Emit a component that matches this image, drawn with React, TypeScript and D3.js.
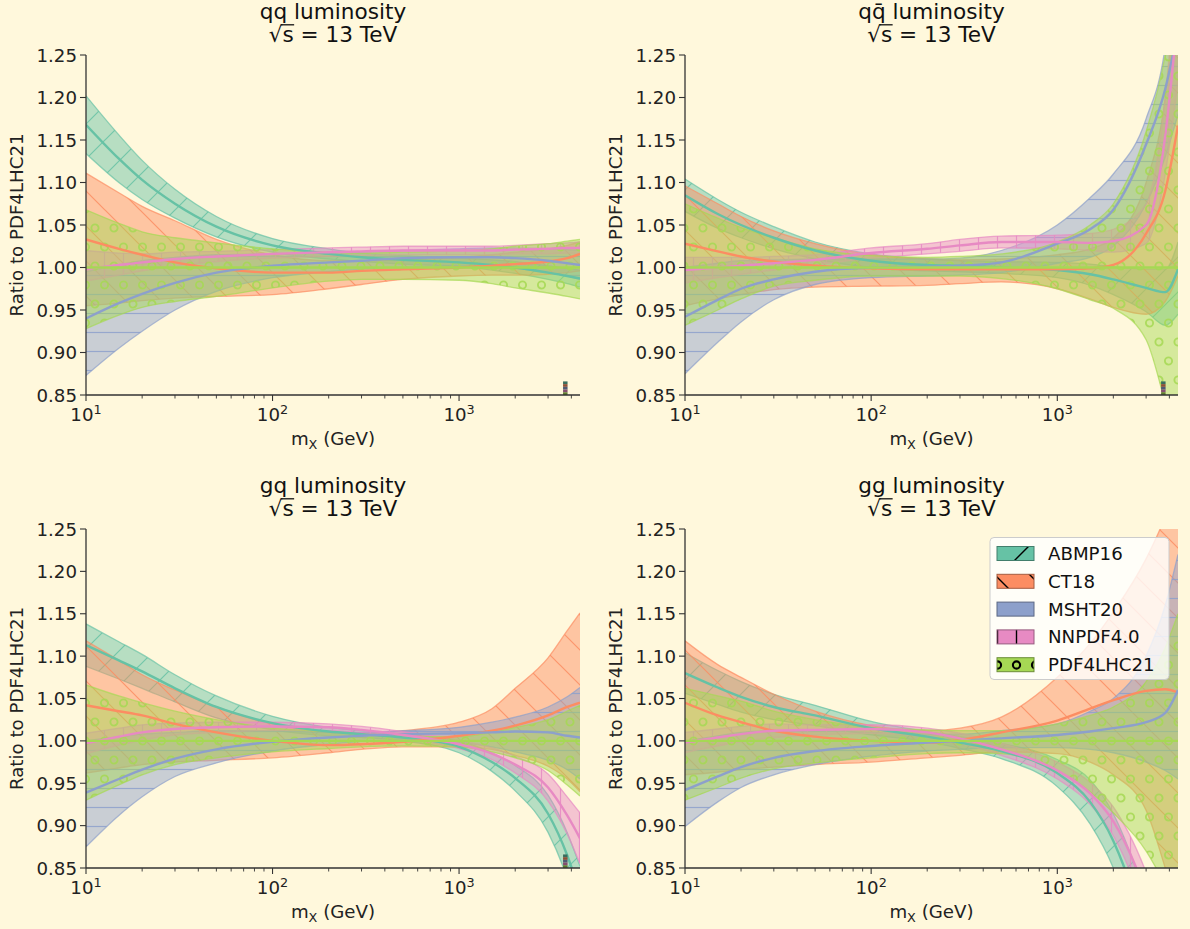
import React, { useLayoutEffect, useRef, useState } from "react";
import * as d3 from "d3";

// Invariant-mass grid (GeV) on which all luminosity ratios are tabulated
const massGrid = [10, 15, 20, 30, 50, 100, 200, 300, 500, 1000, 1500, 2000, 3000, 3800, 4450];
const pdfSets = ["ABMP16", "CT18", "MSHT20", "NNPDF4.0", "PDF4LHC21"];
const setColors = ["#66c2a5", "#fc8d62", "#8da0cb", "#e78ac3", "#a6d854"];
const hatchKinds = ["slash", "backslash", "horizontal", "vertical", "circles"];
const yTicks = [0.85, 0.9, 0.95, 1.0, 1.05, 1.1, 1.15, 1.2, 1.25];
const xMajorTicks = [10, 100, 1000];
const xMinorTicks = [20, 30, 40, 50, 60, 70, 80, 90, 200, 300, 400, 500, 600, 700, 800, 900, 2000, 3000, 4000];
const xDomain = [10, 4450];
const yDomain = [0.85, 1.25];
const stubMass = 3700;
const energyText = "√s = 13 TeV";

// qq luminosity: rows follow pdfSets
const qqCentral = [
  [1.168, 1.128, 1.103, 1.075, 1.048, 1.026, 1.016, 1.012, 1.009, 1.006, 1.003, 1.0, 0.994, 0.99, 0.987],
  [1.033, 1.022, 1.015, 1.006, 0.999, 0.994, 0.994, 0.996, 0.998, 1.0, 1.002, 1.004, 1.007, 1.011, 1.016],
  [0.94, 0.958, 0.969, 0.982, 0.994, 1.002, 1.006, 1.008, 1.011, 1.012, 1.012, 1.011, 1.008, 1.005, 1.003],
  [0.998, 1.003, 1.006, 1.01, 1.013, 1.016, 1.018, 1.019, 1.02, 1.02, 1.02, 1.021, 1.022, 1.023, 1.023],
  [1, 1, 1, 1, 1, 1, 1, 1, 1, 1, 1, 1, 1, 1, 1],
];
const qqUpper = [
  [1.202, 1.156, 1.126, 1.092, 1.06, 1.034, 1.022, 1.017, 1.014, 1.011, 1.009, 1.007, 1.002, 0.999, 0.997],
  [1.111, 1.088, 1.072, 1.055, 1.033, 1.015, 1.008, 1.008, 1.009, 1.012, 1.015, 1.018, 1.022, 1.026, 1.03],
  [0.995, 1.003, 1.008, 1.012, 1.015, 1.016, 1.017, 1.018, 1.02, 1.022, 1.023, 1.023, 1.022, 1.021, 1.02],
  [1.02, 1.017, 1.016, 1.018, 1.019, 1.021, 1.023, 1.024, 1.025, 1.025, 1.025, 1.026, 1.028, 1.029, 1.03],
  [1.068, 1.052, 1.042, 1.035, 1.029, 1.022, 1.018, 1.017, 1.018, 1.02, 1.022, 1.025, 1.028, 1.031, 1.033],
];
const qqLower = [
  [1.134, 1.1, 1.08, 1.058, 1.036, 1.018, 1.01, 1.007, 1.004, 1.001, 0.997, 0.993, 0.986, 0.981, 0.977],
  [0.955, 0.958, 0.961, 0.964, 0.966, 0.968, 0.975, 0.98, 0.986, 0.99, 0.991, 0.991, 0.992, 0.994, 0.996],
  [0.873, 0.905, 0.925, 0.95, 0.972, 0.988, 0.995, 0.998, 1.0, 1.002, 1.001, 0.999, 0.994, 0.99, 0.986],
  [0.984, 0.991, 0.996, 1.002, 1.007, 1.011, 1.013, 1.014, 1.015, 1.015, 1.015, 1.016, 1.016, 1.017, 1.016],
  [0.928, 0.944, 0.953, 0.96, 0.966, 0.976, 0.984, 0.986, 0.986, 0.985, 0.981, 0.976, 0.97, 0.966, 0.963],
];

// q-qbar luminosity
const qqbarCentral = [
  [1.085, 1.063, 1.05, 1.035, 1.02, 1.008, 1.003, 1.002, 1.0, 0.997, 0.992, 0.986, 0.976, 0.971, 0.998],
  [1.028, 1.019, 1.013, 1.007, 1.002, 0.999, 0.998, 0.998, 0.998, 0.998, 0.999, 1.003, 1.04, 1.09, 1.167],
  [0.942, 0.962, 0.975, 0.986, 0.995, 1.0, 1.001, 1.002, 1.006, 1.028, 1.045, 1.068, 1.145, 1.21, 1.28],
  [0.997, 1.0, 1.002, 1.005, 1.009, 1.017, 1.022, 1.026, 1.03, 1.03, 1.029, 1.031, 1.05, 1.155, 1.3],
  [1, 1, 1, 1, 1, 1, 1, 1, 1, 1, 1, 1, 1, 1, 1],
];
const qqbarUpper = [
  [1.104, 1.08, 1.065, 1.048, 1.03, 1.016, 1.01, 1.008, 1.007, 1.006, 1.004, 1.001, 0.998, 0.998, 1.03],
  [1.096, 1.075, 1.06, 1.043, 1.028, 1.015, 1.01, 1.009, 1.01, 1.015, 1.022, 1.035, 1.1, 1.2, 1.35],
  [1.0, 1.005, 1.008, 1.009, 1.01, 1.01, 1.01, 1.011, 1.02, 1.05, 1.082, 1.11, 1.175, 1.26, 1.4],
  [1.012, 1.012, 1.012, 1.013, 1.015, 1.023, 1.028, 1.033, 1.037, 1.038, 1.04, 1.045, 1.075, 1.2, 1.38],
  [1.075, 1.058, 1.047, 1.035, 1.022, 1.014, 1.012, 1.013, 1.016, 1.03, 1.05, 1.075, 1.16, 1.25, 1.35],
];
const qqbarLower = [
  [1.066, 1.046, 1.035, 1.022, 1.01, 1.0, 0.996, 0.995, 0.993, 0.988, 0.979, 0.968, 0.948, 0.932, 0.945],
  [0.955, 0.963, 0.968, 0.974, 0.977, 0.978, 0.979, 0.981, 0.983, 0.975, 0.963, 0.953, 0.945, 0.96, 0.99],
  [0.875, 0.912, 0.936, 0.962, 0.98, 0.988, 0.99, 0.991, 0.994, 1.005, 1.012, 1.025, 1.075, 1.13, 1.18],
  [0.982, 0.988, 0.992, 0.997, 1.003, 1.011, 1.016, 1.019, 1.023, 1.022, 1.02, 1.018, 1.028, 1.11, 1.22],
  [0.932, 0.95, 0.963, 0.978, 0.985, 0.99, 0.99, 0.99, 0.987, 0.975, 0.962, 0.952, 0.915, 0.84, 0.78],
];

// gq luminosity
const gqCentral = [
  [1.113, 1.095, 1.082, 1.062, 1.04, 1.021, 1.011, 1.008, 1.004, 0.993, 0.975, 0.956, 0.914, 0.865, 0.82],
  [1.042, 1.035, 1.03, 1.02, 1.01, 1.0, 0.995, 0.996, 0.999, 1.006, 1.012, 1.018, 1.03, 1.04, 1.045],
  [0.939, 0.955, 0.966, 0.979, 0.99, 0.999, 1.004, 1.006, 1.008, 1.009, 1.01, 1.011, 1.01, 1.006, 1.004],
  [0.997, 1.005, 1.01, 1.014, 1.016, 1.017, 1.016, 1.013, 1.007, 0.996, 0.985, 0.972, 0.945, 0.912, 0.885],
  [1, 1, 1, 1, 1, 1, 1, 1, 1, 1, 1, 1, 1, 1, 1],
];
const gqUpper = [
  [1.138, 1.117, 1.102, 1.078, 1.053, 1.029, 1.016, 1.012, 1.008, 1.0, 0.986, 0.971, 0.936, 0.892, 0.852],
  [1.118, 1.095, 1.078, 1.06, 1.04, 1.02, 1.01, 1.009, 1.012, 1.022, 1.038, 1.062, 1.098, 1.13, 1.151],
  [1.0, 1.005, 1.008, 1.01, 1.012, 1.012, 1.01, 1.01, 1.012, 1.016, 1.022, 1.028, 1.04, 1.052, 1.063],
  [1.009, 1.015, 1.019, 1.021, 1.022, 1.022, 1.02, 1.017, 1.011, 1.001, 0.992, 0.982, 0.961, 0.934, 0.915],
  [1.066, 1.053, 1.045, 1.035, 1.025, 1.015, 1.011, 1.008, 1.006, 1.005, 1.01, 1.016, 1.025, 1.035, 1.042],
];
const gqLower = [
  [1.088, 1.073, 1.062, 1.046, 1.027, 1.013, 1.006, 1.004, 1.0, 0.986, 0.964, 0.941, 0.892, 0.838, 0.788],
  [0.962, 0.968, 0.972, 0.975, 0.977, 0.98, 0.986, 0.99, 0.993, 0.993, 0.99, 0.983, 0.97, 0.955, 0.94],
  [0.875, 0.912, 0.934, 0.958, 0.974, 0.988, 0.996, 0.999, 1.0, 0.998, 0.993, 0.987, 0.977, 0.966, 0.955],
  [0.985, 0.995, 1.001, 1.007, 1.01, 1.012, 1.012, 1.009, 1.003, 0.991, 0.978, 0.962, 0.929, 0.89, 0.855],
  [0.93, 0.948, 0.96, 0.972, 0.98, 0.987, 0.991, 0.993, 0.994, 0.993, 0.987, 0.98, 0.965, 0.948, 0.935],
];

// gg luminosity
const ggCentral = [
  [1.08, 1.063, 1.052, 1.04, 1.03, 1.015, 1.005, 0.998, 0.988, 0.962, 0.928, 0.882, 0.77, 0.68, 0.6],
  [1.045, 1.03, 1.022, 1.012, 1.005, 1.0, 0.998, 1.001, 1.01, 1.024, 1.038, 1.048, 1.059, 1.061, 1.057],
  [0.942, 0.958, 0.969, 0.98, 0.988, 0.994, 0.998, 1.0, 1.003, 1.007, 1.011, 1.015, 1.022, 1.033, 1.06],
  [0.998, 1.004, 1.008, 1.012, 1.013, 1.014, 1.01, 1.003, 0.99, 0.965, 0.938, 0.905, 0.82, 0.75, 0.68],
  [1, 1, 1, 1, 1, 1, 1, 1, 1, 1, 1, 1, 1, 1, 1],
];
const ggUpper = [
  [1.104, 1.083, 1.07, 1.055, 1.042, 1.023, 1.011, 1.005, 0.997, 0.978, 0.954, 0.914, 0.812, 0.73, 0.66],
  [1.118, 1.09, 1.075, 1.055, 1.035, 1.018, 1.012, 1.015, 1.028, 1.075, 1.115, 1.152, 1.215, 1.265, 1.31],
  [1.0, 1.006, 1.01, 1.012, 1.012, 1.01, 1.008, 1.008, 1.012, 1.02, 1.035, 1.05, 1.1, 1.16, 1.22],
  [1.01, 1.014, 1.017, 1.02, 1.019, 1.019, 1.015, 1.009, 0.997, 0.975, 0.951, 0.922, 0.845, 0.78, 0.715],
  [1.062, 1.053, 1.047, 1.035, 1.025, 1.016, 1.013, 1.012, 1.012, 1.02, 1.03, 1.04, 1.07, 1.11, 1.15],
];
const ggLower = [
  [1.056, 1.043, 1.034, 1.025, 1.018, 1.007, 0.999, 0.991, 0.979, 0.946, 0.902, 0.85, 0.728, 0.63, 0.54],
  [0.96, 0.963, 0.966, 0.969, 0.972, 0.975, 0.98, 0.983, 0.987, 0.985, 0.975, 0.96, 0.918, 0.85, 0.8],
  [0.899, 0.928, 0.945, 0.96, 0.972, 0.982, 0.988, 0.99, 0.992, 0.992, 0.99, 0.986, 0.975, 0.965, 0.955],
  [0.986, 0.994, 0.999, 1.004, 1.007, 1.009, 1.005, 0.997, 0.983, 0.955, 0.925, 0.888, 0.795, 0.72, 0.645],
  [0.93, 0.945, 0.956, 0.967, 0.974, 0.98, 0.985, 0.986, 0.985, 0.965, 0.94, 0.915, 0.87, 0.83, 0.8],
];

const FONT = "DejaVu Sans, Verdana, sans-serif";
const BG = "#fff8dc";
const STRAIGHT_GAP = 19; // spacing of horizontal / vertical hatch lines and circle grid
const DIAG_GAP = 35; // horizontal spacing of diagonal hatch lines

type Box = { x0: number; x1: number; y0: number; y1: number };

const panels = [
  { key: "qq", pre: "qq", box: { x0: 86, x1: 580, y0: 55, y1: 395 }, central: qqCentral, upper: qqUpper, lower: qqLower, stub: true, legend: false },
  { key: "qqbar", pre: "q" + "q\u0304", box: { x0: 685, x1: 1178, y0: 55, y1: 395 }, central: qqbarCentral, upper: qqbarUpper, lower: qqbarLower, stub: true, legend: false },
  { key: "gq", pre: "gq", box: { x0: 86, x1: 580, y0: 529, y1: 868 }, central: gqCentral, upper: gqUpper, lower: gqLower, stub: true, legend: false },
  { key: "gg", pre: "gg", box: { x0: 685, x1: 1178, y0: 529, y1: 868 }, central: ggCentral, upper: ggUpper, lower: ggLower, stub: false, legend: true },
];

function hatchPath(kind: string) {
  const d = DIAG_GAP;
  const s = STRAIGHT_GAP;
  if (kind === "slash")
    return `M${-d / 2},${d / 2}L${d / 2},${-d / 2}M0,${d}L${d},0M${d / 2},${d * 1.5}L${d * 1.5},${d / 2}`;
  if (kind === "backslash")
    return `M${-d / 2},${d / 2}L${d / 2},${d * 1.5}M0,0L${d},${d}M${d / 2},${-d / 2}L${d * 1.5},${d / 2}`;
  if (kind === "horizontal") return `M0,${s / 2}L${s},${s / 2}`;
  if (kind === "vertical") return `M${s / 2},0L${s / 2},${s}`;
  return "";
}

function HatchPattern({ id, kind, color, width, opacity }: { id: string; kind: string; color: string; width: number; opacity: number }) {
  const s = STRAIGHT_GAP;
  if (kind === "circles") {
    const pts = [[0, 0], [s, 0], [s / 2, s], [0, 2 * s], [s, 2 * s]];
    return (
      <pattern id={id} patternUnits="userSpaceOnUse" width={s} height={2 * s}>
        {pts.map(([cx, cy], i) => (
          <circle key={i} cx={cx} cy={cy} r={3.6} fill="none" stroke={color} strokeWidth={width + 0.7} strokeOpacity={opacity} />
        ))}
      </pattern>
    );
  }
  const tile = kind === "slash" || kind === "backslash" ? DIAG_GAP : s;
  return (
    <pattern id={id} patternUnits="userSpaceOnUse" width={tile} height={tile}>
      <path d={hatchPath(kind)} stroke={color} strokeWidth={width} strokeOpacity={opacity} fill="none" />
    </pattern>
  );
}

// Two-line panel title; the radical bar over "s" is placed from measured glyph positions
function PanelTitle({ cx, top, head }: { cx: number; top: number; head: string }) {
  const ref = useRef<SVGTextElement>(null);
  const [bar, setBar] = useState<{ x1: number; x2: number } | null>(null);
  const firstBase = top - 36;
  const secondBase = top - 13;
  useLayoutEffect(() => {
    const el = ref.current;
    if (!el) return;
    try {
      const n = head.length;
      const a = el.getEndPositionOfChar(n);
      const b = el.getEndPositionOfChar(n + 1);
      setBar({ x1: a.x - 1.5, x2: b.x + 0.5 });
    } catch (e) {
      setBar(null);
    }
  }, [cx, top, head]);
  return (
    <g>
      <text ref={ref} textAnchor="middle" fontSize={21.6} fontFamily={FONT} fill="#111">
        <tspan x={cx} y={firstBase}>{head}</tspan>
        <tspan x={cx} y={secondBase}>{energyText}</tspan>
      </text>
      {bar && <line x1={bar.x1} x2={bar.x2} y1={secondBase - 17.2} y2={secondBase - 17.2} stroke="#111" strokeWidth={1.3} />}
    </g>
  );
}

function Panel({ p }: { p: (typeof panels)[number] }) {
  const box: Box = p.box;
  const x = d3.scaleLog().domain(xDomain).range([box.x0, box.x1]);
  const y = d3.scaleLinear().domain(yDomain).range([box.y1, box.y0]);
  const cx = (box.x0 + box.x1) / 2;
  const clipId = `clip-${p.key}`;

  type Pt = { m: number; lo: number; hi: number; c: number };
  const area = d3
    .area<Pt>()
    .x((d) => x(d.m))
    .y0((d) => y(d.lo))
    .y1((d) => y(d.hi))
    .curve(d3.curveMonotoneX);
  const lineOf = (acc: (d: Pt) => number) =>
    d3
      .line<Pt>()
      .x((d) => x(d.m))
      .y((d) => y(acc(d)))
      .curve(d3.curveMonotoneX);

  const series = pdfSets.map((name, k) =>
    massGrid.map((m, i) => ({ m, lo: p.lower[k][i], hi: p.upper[k][i], c: p.central[k][i] }))
  );

  const stubTop = y(0.866);
  const stubBottom = y(yDomain[0]);
  const stubH = (stubBottom - stubTop) / pdfSets.length;

  return (
    <g>
      <clipPath id={clipId}>
        <rect x={box.x0} y={box.y0} width={box.x1 - box.x0} height={box.y1 - box.y0} />
      </clipPath>
      <g clipPath={`url(#${clipId})`}>
        {series.map((pts, k) => (
          <g key={pdfSets[k]}>
            <path d={area(pts) || ""} fill={setColors[k]} fillOpacity={0.47} />
            <path d={area(pts) || ""} fill={`url(#hatch-${k})`} />
            <path d={lineOf((d) => d.hi)(pts) || ""} fill="none" stroke={setColors[k]} strokeOpacity={0.7} strokeWidth={1.3} />
            <path d={lineOf((d) => d.lo)(pts) || ""} fill="none" stroke={setColors[k]} strokeOpacity={0.7} strokeWidth={1.3} />
          </g>
        ))}
        {series.map((pts, k) => (
          <path key={`c${k}`} d={lineOf((d) => d.c)(pts) || ""} fill="none" stroke={setColors[k]} strokeWidth={2.4} />
        ))}
        {p.stub &&
          setColors.map((c, k) => (
            <rect
              key={k}
              x={x(stubMass) - 2}
              y={stubTop + k * stubH}
              width={4.5}
              height={stubH}
              fill={d3.color(c)!.darker(1.6).formatHex()}
            />
          ))}
      </g>

      {/* axes */}
      <line x1={box.x0} y1={box.y0} x2={box.x0} y2={box.y1} stroke="#333" strokeWidth={1.3} />
      <line x1={box.x0} y1={box.y1} x2={box.x1} y2={box.y1} stroke="#333" strokeWidth={1.3} />
      {yTicks.map((t) => (
        <g key={t}>
          <line x1={box.x0 - 6} x2={box.x0} y1={y(t)} y2={y(t)} stroke="#333" strokeWidth={1.1} />
          <text x={box.x0 - 9} y={y(t)} dy="0.36em" textAnchor="end" fontSize={18.2} fontFamily={FONT} fill="#222">
            {t.toFixed(2)}
          </text>
        </g>
      ))}
      {xMajorTicks.map((t) => (
        <g key={t}>
          <line x1={x(t)} x2={x(t)} y1={box.y1} y2={box.y1 + 6} stroke="#333" strokeWidth={1.1} />
          <text x={x(t)} y={box.y1 + 26} textAnchor="middle" fontSize={18.2} fontFamily={FONT} fill="#222">
            <tspan>10</tspan>
            <tspan dy={-7.5} fontSize={12.8}>
              {Math.round(Math.log10(t))}
            </tspan>
          </text>
        </g>
      ))}
      {xMinorTicks.map((t) => (
        <line key={t} x1={x(t)} x2={x(t)} y1={box.y1} y2={box.y1 + 3.5} stroke="#333" strokeWidth={0.9} />
      ))}
      <text x={cx} y={box.y1 + 50} textAnchor="middle" fontSize={18.2} fontFamily={FONT} fill="#222">
        <tspan>m</tspan>
        <tspan dy={4} fontSize={12.8}>X</tspan>
        <tspan dy={-4}> (GeV)</tspan>
      </text>
      <text
        transform={`translate(${box.x0 - 63},${(box.y0 + box.y1) / 2}) rotate(-90)`}
        textAnchor="middle"
        fontSize={18.2}
        fontFamily={FONT}
        fill="#222"
      >
        Ratio to PDF4LHC21
      </text>

      <PanelTitle cx={cx} top={box.y0} head={`${p.pre} luminosity`} />

      {p.legend && <Legend box={box} />}
    </g>
  );
}

function Legend({ box }: { box: Box }) {
  const w = 179;
  const h = 142;
  const lx = box.x1 - 9 - w;
  const ly = box.y0 + 8.5;
  const rowGap = 27.8;
  return (
    <g>
      <rect x={lx} y={ly} width={w} height={h} rx={4} fill="#ffffff" fillOpacity={0.8} stroke="#cccccc" strokeWidth={1} />
      {pdfSets.map((name, k) => {
        const cy = ly + 16 + k * rowGap;
        const c = setColors[k];
        return (
          <g key={name}>
            <rect x={lx + 7} y={cy - 7} width={37} height={14} fill={c} />
            <rect x={lx + 7} y={cy - 7} width={37} height={14} fill={`url(#lhatch-${k})`} />
            <rect x={lx + 7} y={cy - 7} width={37} height={14} fill="none" stroke={d3.color(c)!.darker(1.2).formatHex()} strokeWidth={1} />
            <text x={lx + 58} y={cy} dy="0.36em" fontSize={18.2} fontFamily={FONT} fill="#111">
              {name}
            </text>
          </g>
        );
      })}
    </g>
  );
}

export default function App() {
  return (
    <svg
      width={1190}
      height={929}
      style={{ position: "absolute", left: 0, top: 0, display: "block" }}
      xmlns="http://www.w3.org/2000/svg"
    >
      <defs>
        {hatchKinds.map((kind, k) => (
          <HatchPattern key={`h${k}`} id={`hatch-${k}`} kind={kind} color={setColors[k]} width={1.2} opacity={0.85} />
        ))}
        {hatchKinds.map((kind, k) => (
          <HatchPattern key={`l${k}`} id={`lhatch-${k}`} kind={kind} color="#000" width={1.4} opacity={1} />
        ))}
      </defs>
      <rect x={0} y={0} width={1190} height={929} fill={BG} />
      {panels.map((p) => (
        <Panel key={p.key} p={p} />
      ))}
    </svg>
  );
}
